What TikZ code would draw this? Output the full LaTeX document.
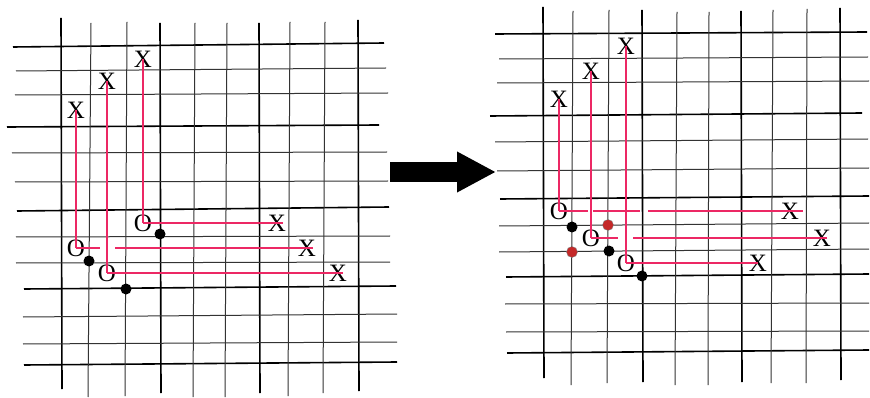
\documentclass[tikz,border=0pt]{standalone}
\usepackage{fontspec}
\setmainfont{Liberation Serif}
\usepackage{xcolor}
\usepackage{tikz}
\usetikzlibrary{arrows.meta}
\definecolor{trailpink}{RGB}{236,40,100}
\definecolor{dotred}{RGB}{196,40,40}

\begin{document}
\begin{tikzpicture}[
    x=1pt, y=-1pt,
    thickrule/.style={line width=1.6pt, black},
    thinrule/.style={line width=1pt, black!80},
    trail/.style={draw=trailpink, line width=1.2pt},
    letter/.style={inner sep=0pt, font=\fontsize{25}{25}\selectfont},
    dot/.style={circle, fill=black, inner sep=0pt, minimum size=11pt},
    reddot/.style={dot, fill=dotred, draw=black!50, thin},
]
\useasboundingbox (0,0) rectangle (870,398);

% Left grid
\foreach \xa/\ya/\xb/\yb in {13/47/384/43, 7/127/379/125, 17/211/389/207, 24/289/396/286, 24/365/397/362,
    61/18/62/389, 160/23/161/393, 259/23/260/393, 358/20/359/391}
    \draw[thickrule] (\xa,\ya) -- (\xb,\yb);
\foreach \xa/\ya/\xb/\yb in {16/71/386/68, 15/95/388/93, 12/153/387/152, 15/182/388/181,
    16/237/390/236, 16/263/390/262, 23/317/397/314, 23/344/397/342,
    91/23/88/397, 127/22/125/396, 195/23/193/397, 227/23/225/397, 290/22/288/396, 325/22/323/393}
    \draw[thinrule] (\xa,\ya) -- (\xb,\yb);

% Right grid
\foreach \xa/\ya/\xb/\yb in {495/34/867/32, 490/116/862/113, 500/199/869/196, 506/277/869/274, 507/353/869/350,
    543/7/544/378, 642/10/643/382, 741/11/742/382, 840/8/841/380}
    \draw[thickrule] (\xa,\ya) -- (\xb,\yb);
\foreach \xa/\ya/\xb/\yb in {499/59/868/57, 497/83/869/81, 495/142/868/139, 497/171/869/168,
    499/226/869/223, 499/252/869/249, 505/304/869/303, 506/332/869/331,
    573/11/571/385, 609/10/607/383, 677/12/675/385, 709/12/708/385, 773/10/771/383, 807/9/806/383}
    \draw[thinrule] (\xa,\ya) -- (\xb,\yb);

% Left marks
\node[letter] (lOa) at (76,248) {O};
\node[letter] (lXa1) at (76,110) {X};
\node[letter] (lXa2) at (307,248) {X};
\node[letter] (lOb) at (107,273) {O};
\node[letter] (lXb1) at (107,81) {X};
\node[letter] (lXb2) at (338,273) {X};
\node[letter] (lOc) at (143,223) {O};
\node[letter] (lXc1) at (143,59) {X};
\node[letter] (lXc2) at (277,223) {X};

\draw[trail] (lXa1.center) -- (lOa.center);
\draw[trail, dash pattern=on 24pt off 15pt on 400pt] (lOa.center) -- ([xshift=6pt]lXa2.center);
\draw[trail] (lXb1.center) -- (lOb.center);
\draw[trail] (lOb.center) -- ([xshift=5pt]lXb2.center);
\draw[trail] (lXc1.center) -- (lOc.center);
\draw[trail] (lOc.center) -- ([xshift=6pt]lXc2.center);

\node[dot] (ldA) at (160,234) {};
\node[dot] (ldB) at (89,261) {};
\node[dot] (ldC) at (126,289) {};

% Arrow between the grids
\coordinate (arrowtail) at (390,172);
\coordinate (arrowtip) at (496,172);
\draw[line width=20pt, -{Triangle[length=39pt, width=38pt]}] (arrowtail) -- (arrowtip);

% Right marks
\node[letter] (rOa) at (559,211) {O};
\node[letter] (rXa1) at (559,99) {X};
\node[letter] (rXa2) at (790,211) {X};
\node[letter] (rOb) at (591,238) {O};
\node[letter] (rXb1) at (591,71) {X};
\node[letter] (rXb2) at (822,238) {X};
\node[letter] (rOc) at (626,263) {O};
\node[letter] (rXc1) at (626,46) {X};
\node[letter] (rXc2) at (758,263) {X};

\draw[trail] (rXa1.center) -- (rOa.center);
\draw[trail, dash pattern=on 29pt off 5pt on 47pt off 8pt on 400pt] (rOa.center) -- ([xshift=13pt]rXa2.center);
\draw[trail] (rXb1.center) -- (rOb.center);
\draw[trail, dash pattern=on 27pt off 15pt on 400pt] (rOb.center) -- ([xshift=5pt]rXb2.center);
\draw[trail] (rXc1.center) -- (rOc.center);
\draw[trail] (rOc.center) -- (rXc2.center);

\node[dot] (rdA) at (572,227) {};
\node[dot] (rdB) at (609,251) {};
\node[dot] (rdC) at (642,276) {};
\node[reddot] (rrA) at (608,225) {};
\node[reddot] (rrB) at (572,252) {};

\end{tikzpicture}
\end{document}
